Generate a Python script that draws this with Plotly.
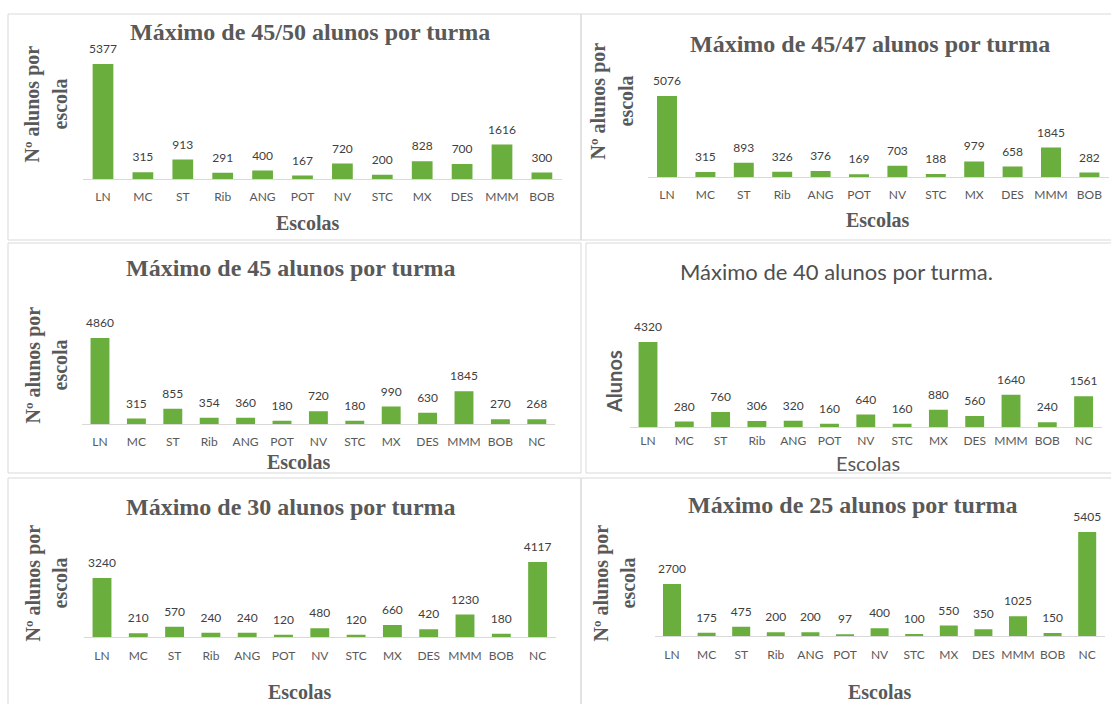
import plotly.graph_objects as go

W, H = 1111, 704

# School codes
schools_12 = ["LN", "MC", "ST", "Rib", "ANG", "POT", "NV", "STC", "MX", "DES", "MMM", "BOB"]
schools_13 = schools_12 + ["NC"]

# Students per school under each class-size cap
max_45_50 = [5377, 315, 913, 291, 400, 167, 720, 200, 828, 700, 1616, 300]
max_45_47 = [5076, 315, 893, 326, 376, 169, 703, 188, 979, 658, 1845, 282]
max_45 = [4860, 315, 855, 354, 360, 180, 720, 180, 990, 630, 1845, 270, 268]
max_40 = [4320, 280, 760, 306, 320, 160, 640, 160, 880, 560, 1640, 240, 1561]
max_30 = [3240, 210, 570, 240, 240, 120, 480, 120, 660, 420, 1230, 180, 4117]
max_25 = [2700, 175, 475, 200, 200, 97, 400, 100, 550, 350, 1025, 150, 5405]

titles = [
    "Máximo de 45/50 alunos por turma",
    "Máximo de 45/47 alunos por turma",
    "Máximo de 45 alunos por turma",
    "Máximo de 40 alunos por turma.",
    "Máximo de 30 alunos por turma",
    "Máximo de 25 alunos por turma",
]

SERIF = "Liberation Serif"
SANS = "Lato"
GREY = "#595959"
LABEL = "#404040"
BAR = "#6aae3e"
BORDER = "#d9d9d9"

# Panel geometry in pixels: first bar centre, bar pitch, baseline, px per unit, axis max,
# frame box, title position, y-title position, x-title position
panels = [
    dict(cats=schools_12, vals=max_45_50, c0=103, pitch=39.9, base=179, ppu=0.02139, ymax=6000,
         box=(8, 14, 581, 240), title=(310, 32), ytitle=(46, 104), xtitle=(308, 223), serif=True,
         standoff=7, ylabel=["Nº alunos por", "escola"]),
    dict(cats=schools_12, vals=max_45_47, c0=667, pitch=38.4, base=177, ppu=0.01596, ymax=6000,
         box=(581, 14, 1115, 240), title=(870, 44), ytitle=(612, 101), xtitle=(878, 220), serif=True,
         standoff=7, ylabel=["Nº alunos por", "escola"]),
    dict(cats=schools_13, vals=max_45, c0=100, pitch=36.4, base=424, ppu=0.0177, ymax=6000,
         box=(8, 243, 581, 473), title=(291, 268), ytitle=(46, 365), xtitle=(299, 462), serif=True,
         standoff=7, ylabel=["Nº alunos por", "escola"]),
    dict(cats=schools_13, vals=max_40, c0=648, pitch=36.3, base=427, ppu=0.0197, ymax=5000,
         box=(586, 243, 1115, 473), title=(836, 271), ytitle=(614, 382), xtitle=(868, 463), serif=False,
         standoff=3, ylabel=["Alunos"]),
    dict(cats=schools_13, vals=max_30, c0=102, pitch=36.3, base=637, ppu=0.0182, ymax=4500,
         box=(8, 478, 581, 710), title=(291, 507), ytitle=(46, 583), xtitle=(300, 692), serif=True,
         standoff=8, ylabel=["Nº alunos por", "escola"]),
    dict(cats=schools_13, vals=max_25, c0=672, pitch=34.6, base=636, ppu=0.01925, ymax=6000,
         box=(581, 478, 1115, 710), title=(853, 505), ytitle=(614, 583), xtitle=(880, 692), serif=True,
         standoff=8, ylabel=["Nº alunos por", "escola"]),
]

LINE_GAP = 27  # distance between the two rotated y-title lines


def px(x):
    return x / W


def py(y):
    return 1 - y / H


fig = go.Figure()
annotations = []
shapes = []

for i, p in enumerate(panels):
    n = len(p["cats"])
    ax = "" if i == 0 else str(i + 1)
    x0 = p["c0"] - p["pitch"] / 2
    x1 = x0 + n * p["pitch"]
    top = p["base"] - p["ymax"] * p["ppu"]

    fig.add_trace(go.Bar(
        x=p["cats"], y=p["vals"],
        xaxis="x" + ax, yaxis="y" + ax,
        marker=dict(color=BAR, line=dict(width=0)),
        showlegend=False,
        hoverinfo="skip",
    ))
    # value labels sitting just above each bar
    fig.add_trace(go.Scatter(
        x=p["cats"], y=p["vals"],
        xaxis="x" + ax, yaxis="y" + ax,
        mode="markers+text",
        marker=dict(size=11, color="rgba(0,0,0,0)"),
        text=[str(v) for v in p["vals"]],
        textposition="top center",
        textfont=dict(family=SANS, size=12, color=LABEL),
        cliponaxis=False,
        showlegend=False,
        hoverinfo="skip",
    ))

    fig.layout["xaxis" + ax] = dict(
        domain=[px(x0), px(x1)], anchor="y" + ax,
        type="category", range=[-0.5, n - 0.5],
        showline=True, linecolor=BORDER, linewidth=1,
        showgrid=False, zeroline=False, ticks="",
        ticklabelstandoff=p["standoff"],
        tickfont=dict(family=SANS, size=12, color=GREY),
        fixedrange=True,
    )
    fig.layout["yaxis" + ax] = dict(
        domain=[py(p["base"]), py(top)], anchor="x" + ax,
        range=[0, p["ymax"]], visible=False, fixedrange=True,
    )

    bx0, by0, bx1, by1 = p["box"]
    shapes.append(dict(type="rect", xref="paper", yref="paper",
                       x0=px(bx0), x1=px(bx1), y0=py(by1), y1=py(by0),
                       line=dict(color=BORDER, width=1), fillcolor="rgba(0,0,0,0)", layer="below"))

    if p["serif"]:
        tfont = dict(family=SERIF, size=24, color=GREY)
        yfont = dict(family=SERIF, size=20, color=GREY)
        xfont = dict(family=SERIF, size=20, color=GREY)
        ttxt = "<b>" + titles[i] + "</b>"
        xtxt = "<b>Escolas</b>"
    else:
        tfont = dict(family=SANS, size=22, color="#4f4f4f")
        yfont = dict(family=SANS, size=20, color=GREY)
        xfont = dict(family=SANS, size=20, color=GREY)
        ttxt = titles[i]
        xtxt = "Escolas"

    annotations.append(dict(text=ttxt, x=px(p["title"][0]), y=py(p["title"][1]),
                            xref="paper", yref="paper", showarrow=False,
                            xanchor="center", yanchor="middle", font=tfont))

    # rotated y title, one annotation per line so each line is centred
    lines = p["ylabel"]
    k = len(lines)
    for j, line in enumerate(lines):
        cx = p["ytitle"][0] + (j - (k - 1) / 2) * LINE_GAP
        annotations.append(dict(text="<b>" + line + "</b>", x=px(cx), y=py(p["ytitle"][1]),
                                xref="paper", yref="paper", showarrow=False, textangle=-90,
                                xanchor="center", yanchor="middle", font=yfont))

    annotations.append(dict(text=xtxt, x=px(p["xtitle"][0]), y=py(p["xtitle"][1]),
                            xref="paper", yref="paper", showarrow=False,
                            xanchor="center", yanchor="middle", font=xfont))

fig.update_layout(
    width=W, height=H,
    margin=dict(l=0, r=0, t=0, b=0),
    paper_bgcolor="white", plot_bgcolor="rgba(0,0,0,0)",
    bargap=0.48,
    annotations=annotations,
    shapes=shapes,
)

fig.write_html("out.html", config=dict(displayModeBar=False))
